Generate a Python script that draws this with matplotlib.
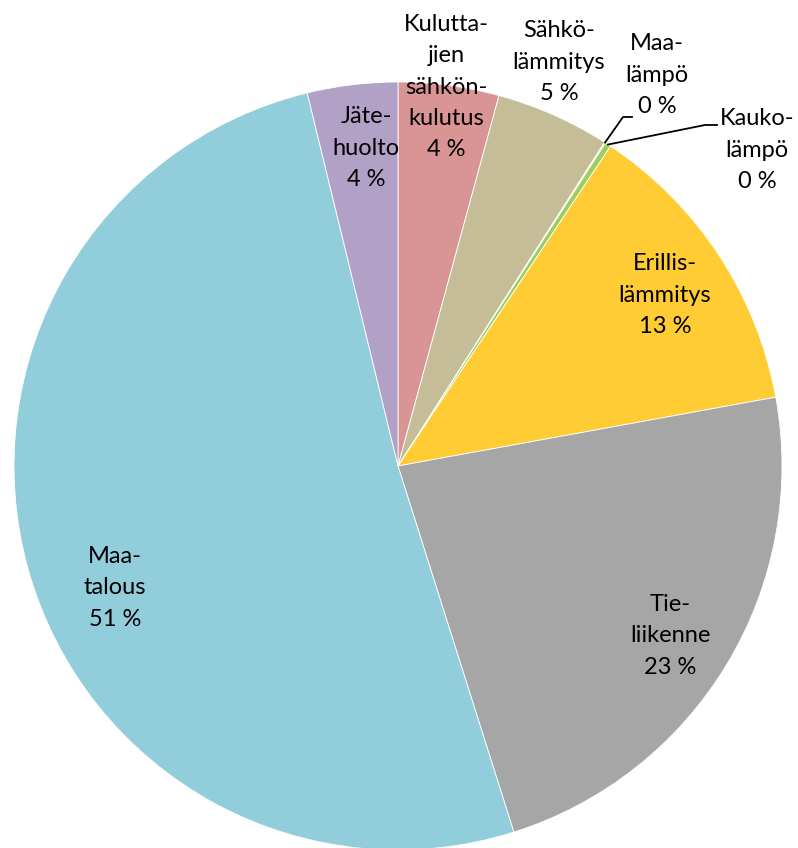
import numpy as np
import matplotlib.pyplot as plt

plt.rcParams['font.family'] = ['Lato', 'DejaVu Sans']

# Data (share of emissions, %)
labels = ['Kulutta-\njien\nsähkön-\nkulutus', 'Sähkö-\nlämmitys', 'Maa-\nlämpö', 'Kauko-\nlämpö',
          'Erillis-\nlämmitys', 'Tie-\nliikenne', 'Maa-\ntalous', 'Jäte-\nhuolto']
values = [4.24, 4.8, 0.05, 0.25, 12.8, 23.0, 51.1, 3.8]
colors = ['#D99594', '#C4BD97', '#FAC090', '#9BD060', '#FFCC33', '#A6A6A6', '#92CDDC', '#B2A1C7']

# label centres in pixel coords of the 798x848 picture
label_px = [(446, 87), (559, 62), (657, 75), (757, 150),
            (665, 295), (670, 636), (115, 588), (366, 148)]

cx, cy, r = 398, 466, 384

fig = plt.figure(figsize=(7.98, 8.48), dpi=100)
ax = fig.add_axes([0, 0, 1, 1])
wedges, _ = ax.pie(values, colors=colors, startangle=90, counterclock=False,
                   wedgeprops=dict(edgecolor='white', linewidth=0.6))
ax.set_xlim((0 - cx) / r, (798 - cx) / r)
ax.set_ylim((cy - 848) / r, (cy - 0) / r)
ax.set_aspect('equal')
ax.axis('off')

def to_data(px, py):
    return (px - cx) / r, (cy - py) / r

for lab, v, (px, py) in zip(labels, values, label_px):
    x, y = to_data(px, py)
    ax.text(x, y, f'{lab}\n{round(v):.0f} %', ha='center', va='center',
            fontsize=17, linespacing=1.6, color='black')

# leader lines for the two tiny slices
for i, (mid, end) in [(2, ((623, 117), (632, 117))), (3, ((705, 125), (717, 125)))]:
    w = wedges[i]
    ang = np.deg2rad((w.theta1 + w.theta2) / 2)
    sx, sy = np.cos(ang), np.sin(ang)
    mx, my = to_data(*mid)
    ex, ey = to_data(*end)
    ax.plot([sx, mx, ex], [sy, my, ey], color='black', linewidth=1.3)

fig.savefig('out.png', dpi=100)
